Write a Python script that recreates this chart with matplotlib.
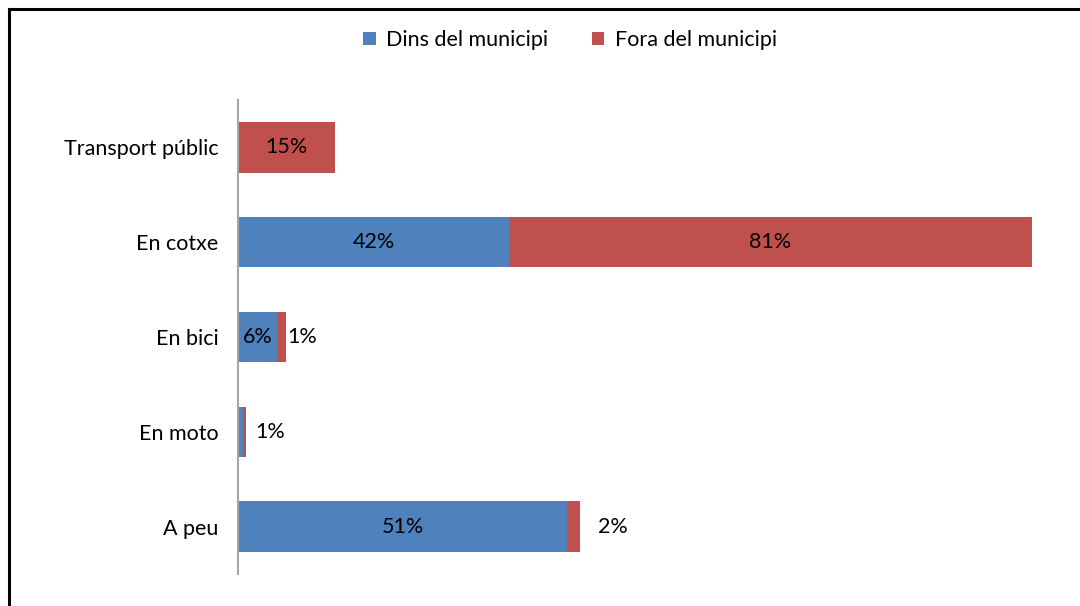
import matplotlib
matplotlib.use("Agg")
import matplotlib.pyplot as plt
from matplotlib.lines import Line2D

plt.rcParams['font.family'] = ['Lato', 'DejaVu Sans']

categories = ["Transport públic", "En cotxe", "En bici", "En moto", "A peu"]
dins = [0, 42, 6, 0.7, 51]
fora = [15, 81, 1.4, 0.6, 2]
series_names = ["Dins del municipi", "Fora del municipi"]

blue = '#4F81BD'
red = '#C0504D'
fs = 15.5

fig = plt.figure(figsize=(10.8, 6.06), dpi=100)
ax = fig.add_axes([238 / 1080, 1 - 574 / 606, 1 - 238 / 1080, (574 - 100) / 606])

y = list(range(len(categories)))
b1 = ax.barh(y, dins, height=0.53, color=blue, label=series_names[0])
b2 = ax.barh(y, fora, left=dins, height=0.53, color=red, label=series_names[1])

ax.set_ylim(len(categories) - 0.5, -0.5)
ax.set_xlim(0, 130.5)
ax.set_yticks(y)
ax.set_yticklabels(categories, fontsize=fs)
ax.tick_params(axis='y', length=0, pad=14)
ax.set_xticks([])
for s in ['top', 'right', 'bottom']:
    ax.spines[s].set_visible(False)
ax.spines['left'].set_color('#A6A6A6')
ax.spines['left'].set_linewidth(1.5)

# labels inside the wide segments, small ones shifted to the right of the bar
outside_pad = {2: 2, 3: 9, 4: 18}
for i in y:
    if dins[i] >= 5:
        ax.text(dins[i] / 2, i, f"{dins[i]:.0f}%", ha='center', va='center', fontsize=fs)
    total = dins[i] + fora[i]
    if fora[i] >= 5:
        ax.text(dins[i] + fora[i] / 2, i, f"{fora[i]:.0f}%", ha='center', va='center', fontsize=fs)
    else:
        ax.annotate(f"{fora[i]:.0f}%", (total, i), xytext=(outside_pad[i] * 0.72, 0),
                    textcoords='offset points', ha='left', va='center', fontsize=fs)

fig.legend(handles=[b1, b2], loc='center', bbox_to_anchor=(570 / 1080, 1 - 40 / 606),
           ncol=2, frameon=False, fontsize=fs, handlelength=0.6, handleheight=0.6,
           handletextpad=0.5, columnspacing=2.0)

# outer chart border (top and left edges)
lw = 2.2
fig.add_artist(Line2D([8.5 / 1080, 1.0], [1 - 8.5 / 606] * 2, color='black', lw=lw,
                      transform=fig.transFigure, solid_capstyle='projecting'))
fig.add_artist(Line2D([8.5 / 1080] * 2, [0, 1 - 8.5 / 606], color='black', lw=lw,
                      transform=fig.transFigure, solid_capstyle='projecting'))

fig.savefig('out.png', dpi=100)
